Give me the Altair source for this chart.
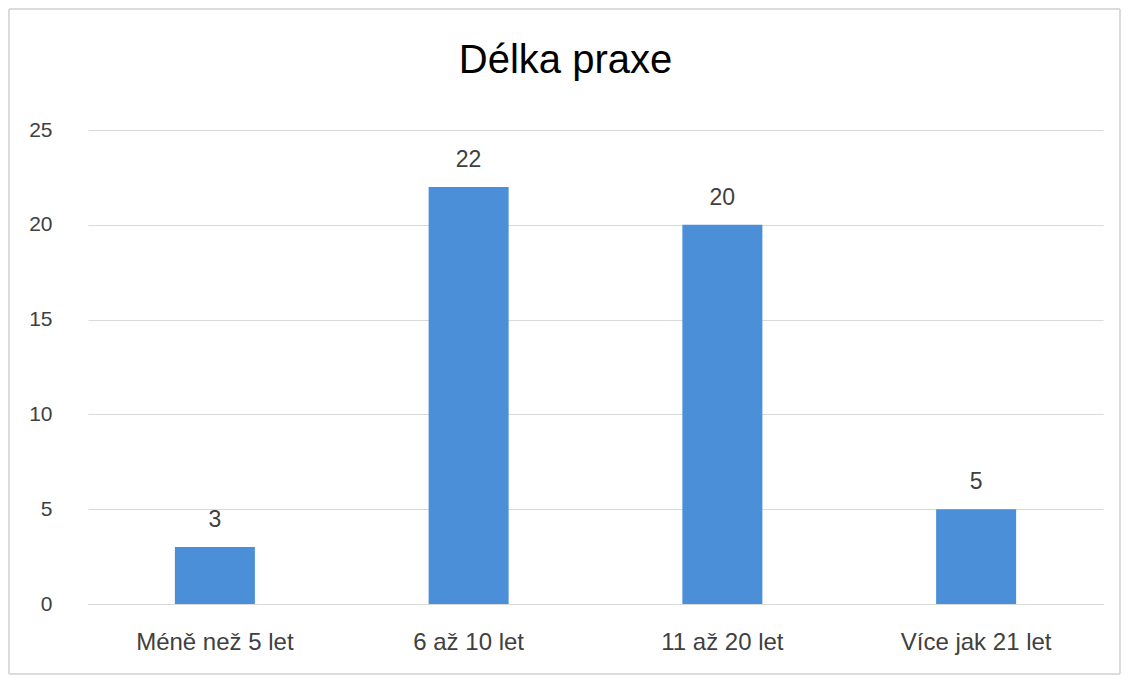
import altair as alt
import pandas as pd

categories = ["Méně než 5 let", "6 až 10 let", "11 až 20 let", "Více jak 21 let"]
values = [3, 22, 20, 5]

df = pd.DataFrame({"kat": categories, "n": values})

FONT = "Liberation Sans"
W, H = 1015, 474

base = alt.Chart(df).encode(
    x=alt.X("kat:N", sort=categories, title=None,
            axis=alt.Axis(labelAngle=0, labelFontSize=24, labelColor="#404040",
                          labelFont=FONT, ticks=False, domain=True,
                          domainColor="#d9d9d9", labelPadding=26, grid=False)),
    y=alt.Y("n:Q", title=None, scale=alt.Scale(domain=[0, 25], nice=False),
            axis=alt.Axis(values=[0, 5, 10, 15, 20, 25], labelFontSize=21,
                          labelColor="#404040", labelFont=FONT, ticks=False,
                          domain=False, gridColor="#d9d9d9", labelPadding=36)),
)

bars = base.mark_bar(size=80, color="#4a8fd8")
labels = base.mark_text(baseline="bottom", dy=-15, fontSize=23, color="#404040",
                        font=FONT).encode(text="n:Q")

frame = alt.Chart(df).mark_rect(fill="transparent", stroke="#d9d9d9", strokeWidth=1).encode(
    x=alt.value(-79), x2=alt.value(W + 17),
    y=alt.value(-121), y2=alt.value(H + 70),
)

chart = alt.layer(frame, bars, labels).properties(
    width=W, height=H,
    background="white",
    title=alt.TitleParams("Délka praxe", fontSize=40, font=FONT, fontWeight="normal",
                          color="#000000", anchor="middle", frame="group",
                          baseline="top", offset=0, dx=-30, dy=72),
    autosize=alt.AutoSizeParams(type="none"),
    padding={"left": 80, "top": 122, "right": 18, "bottom": 71},
).configure_view(strokeWidth=0, stroke="transparent")

chart.save("out.html", embed_options={"renderer": "svg", "actions": False})
